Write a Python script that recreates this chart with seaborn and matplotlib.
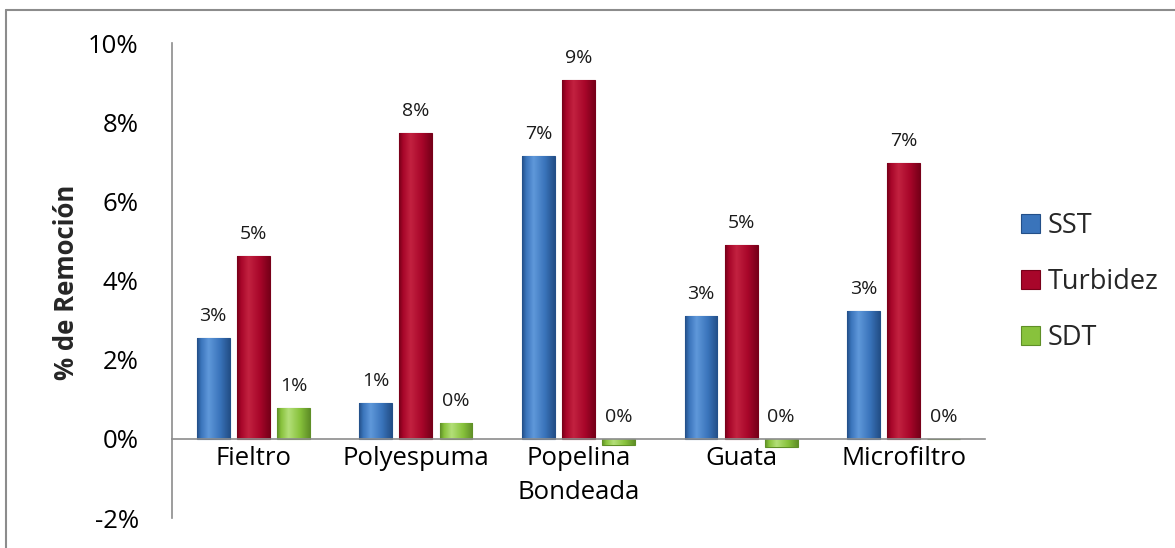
import numpy as np
import pandas as pd
import matplotlib
matplotlib.use("Agg")
import matplotlib.pyplot as plt
import matplotlib.colors as mcolors
from matplotlib.lines import Line2D
from matplotlib.patches import Patch
import seaborn as sns

# Removal efficiency per filter material
categories = ["Fieltro", "Polyespuma", "Popelina\nBondeada", "Guata", "Microfiltro"]
series_names = ["SST", "Turbidez", "SDT"]
sst = [0.0255, 0.0091, 0.0714, 0.0311, 0.0322]
turbidez = [0.0462, 0.0773, 0.0907, 0.0490, 0.0697]
sdt = [0.0078, 0.0040, -0.0015, -0.0020, 0.0]
y_ticks = [-0.02, 0.0, 0.02, 0.04, 0.06, 0.08, 0.10]

# (light, base, dark) shades for each series
shades = {
    "SST": ("#5f98da", "#3a74bb", "#234f88"),
    "Turbidez": ("#c22240", "#a8062a", "#780019"),
    "SDT": ("#b3df78", "#88c23c", "#5f8f27"),
}

df = pd.DataFrame({
    "Material": categories * 3,
    "Serie": [s for s in series_names for _ in categories],
    "Valor": sst + turbidez + sdt,
})

sns.set_theme(style="white")
plt.rcParams["font.family"] = ["Open Sans", "DejaVu Sans"]

fig = plt.figure(figsize=(11.75, 5.48), dpi=100)
ax = fig.add_axes([172 / 1175, 1 - 518 / 548, (985 - 172) / 1175, (518 - 43) / 548])

palette = {k: v[1] for k, v in shades.items()}
sns.barplot(data=df, x="Material", y="Valor", hue="Serie", hue_order=series_names,
            order=categories, palette=palette, width=0.74, gap=0.18,
            saturation=1, legend=False, ax=ax)

# Shaded fill for each bar, clipped to the bar rectangle
for container, name in zip(ax.containers, series_names):
    light, base, dark = shades[name]
    cmap = mcolors.LinearSegmentedColormap.from_list(
        name, [(0.0, dark), (0.12, base), (0.35, light), (0.7, base), (1.0, dark)])
    grad = np.linspace(0, 1, 64).reshape(1, -1)
    for bar in container.patches:
        bar.set_edgecolor(dark)
        bar.set_linewidth(0.8)
        h = bar.get_height()
        if h == 0:
            continue
        x0 = bar.get_x()
        w = bar.get_width()
        y0, y1 = sorted([bar.get_y(), bar.get_y() + h])
        im = ax.imshow(grad, cmap=cmap, extent=[x0, x0 + w, y0, y1],
                       aspect="auto", origin="lower", zorder=bar.get_zorder() + 0.1,
                       interpolation="bilinear")
        im.set_clip_path(bar)
    # value labels
    for bar, v in zip(container.patches, container.datavalues):
        xc = bar.get_x() + bar.get_width() / 2
        ax.annotate(f"{int(round(v * 100))}%", (xc, max(v, 0)),
                    xytext=(0, 16), textcoords="offset points",
                    ha="center", va="center", fontsize=14, color="#1a1a1a")

ax.set_xlim(-0.5, len(categories) - 0.5)
ax.set_ylim(-0.02, 0.10)
ax.set_yticks(y_ticks)
ax.set_yticklabels([f"{int(round(t * 100))}%" for t in y_ticks])

for side in ["top", "right"]:
    ax.spines[side].set_visible(False)
ax.spines["bottom"].set_position(("data", 0))
ax.spines["bottom"].set_color("#8c8c8c")
ax.spines["left"].set_color("#8c8c8c")
ax.spines["bottom"].set_linewidth(1.2)
ax.spines["left"].set_linewidth(1.2)

ax.tick_params(axis="both", length=0, labelsize=18.5, colors="#000000")
ax.tick_params(axis="y", pad=24)
ax.tick_params(axis="x", pad=5)
for lbl in ax.get_xticklabels():
    lbl.set_linespacing(1.5)
    lbl.set_verticalalignment("top")

ax.set_xlabel("")
ax.set_ylabel("% de Remoción", fontsize=18.5, fontweight="bold")
ax.yaxis.set_label_coords(-0.113, 0.497)

handles = [Patch(facecolor=shades[n][1], edgecolor=shades[n][2], linewidth=0.8)
           for n in series_names]
fig.legend(handles, series_names, loc="center left",
           bbox_to_anchor=(1010 / 1175, 1 - 282 / 548), frameon=False,
           fontsize=19.5, handlelength=0.7, handleheight=0.7, handletextpad=0.3,
           labelspacing=1.05, borderaxespad=0)

# Frame around the chart area
fig.add_artist(Line2D([6 / 1175, 6 / 1175], [0, 1 - 10 / 548],
                      transform=fig.transFigure, color="#8c8c8c", lw=1.5))
fig.add_artist(Line2D([6 / 1175, 1], [1 - 10 / 548, 1 - 10 / 548],
                      transform=fig.transFigure, color="#8c8c8c", lw=1.5))

fig.savefig("out.png", dpi=100)
